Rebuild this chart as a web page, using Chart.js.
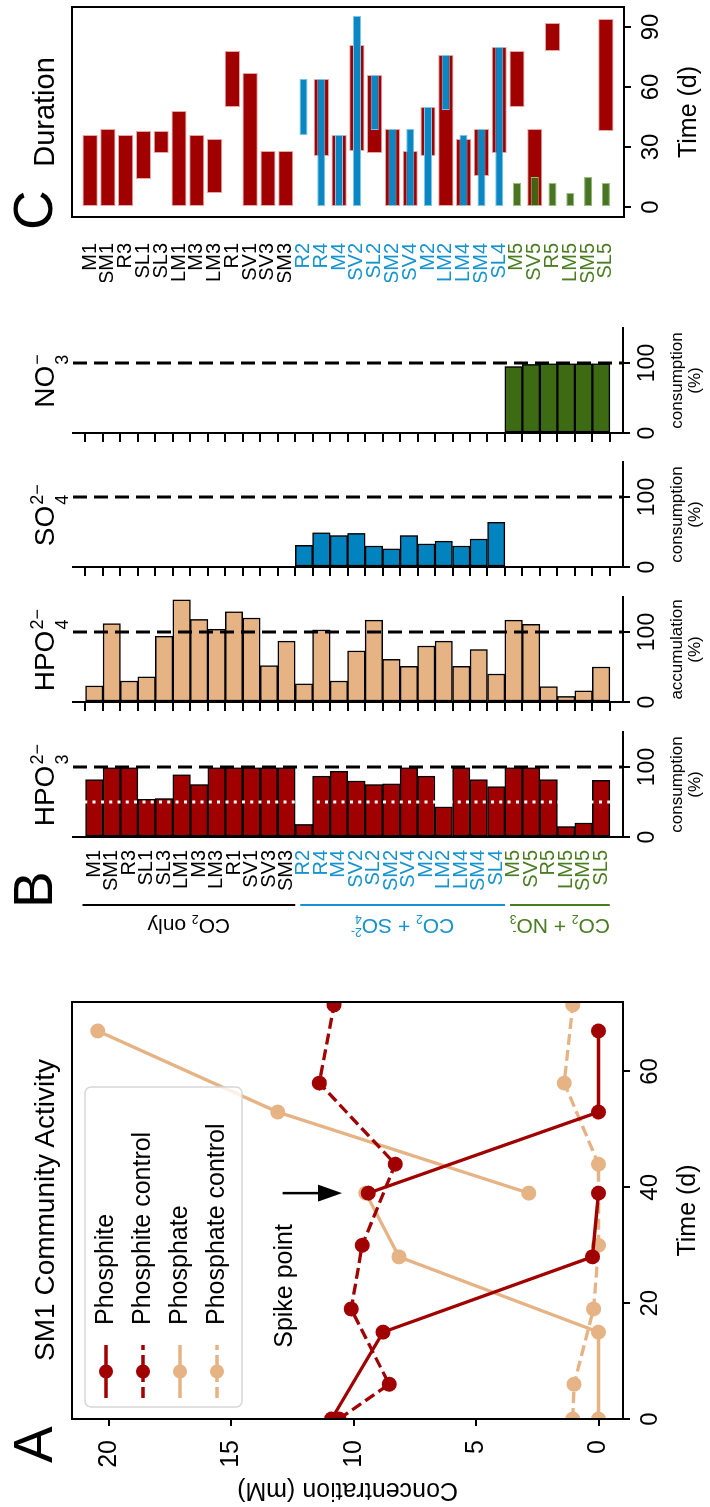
<!DOCTYPE html>
<html>
<head>
<meta charset="utf-8">
<title>SM1 community activity</title>
<script src="https://cdn.jsdelivr.net/npm/chart.js@4.4.1/dist/chart.umd.min.js"></script>
<style>
  html, body { margin: 0; padding: 0; background: #fff; overflow: hidden; }
  body { width: 710px; height: 1507px; position: relative; }
  /* the figure is laid out landscape, then turned a quarter left */
  #fig {
    position: absolute; left: 0; top: 0; width: 1507px; height: 710px;
    transform-origin: 0 0; transform: translateY(1507px) rotate(-90deg);
    font-family: 'Liberation Sans', Arial, sans-serif; color: #000;
  }
  #fig canvas { position: absolute; }
  .txt { position: absolute; white-space: nowrap; text-align: center; }
  .st { position: relative; display: inline-block; }
  .sp, .sb { position: absolute; left: 1px; }
</style>
</head>
<body>
<div id="fig"></div>
<script>
// ---- panel A: concentration (mM) against time (d); null breaks the line at the spike
const phosphiteDays = [0, 15, 28, 39, 39, 39, 53, 67];
const phosphiteConc = [10.9, 8.8, 0.25, 0, null, 9.4, 0, 0];
const phosphiteCtrlDays = [0, 6, 19, 30, 44, 58, 71.5];
const phosphiteCtrlConc = [10.6, 8.55, 10.1, 9.65, 8.3, 11.4, 10.8];
const phosphateDays = [0, 15, 28, 39, 39, 39, 53, 67];
const phosphateConc = [0, 0, 8.15, 9.5, null, 2.85, 13.1, 20.45];
const phosphateCtrlDays = [0, 6, 19, 30, 44, 58, 71.5];
const phosphateCtrlConc = [1.05, 1.0, 0.2, 0, 0, 1.4, 1.05];
const concTicks = [0, 5, 10, 15, 20];
const dayTicksA = [0, 20, 40, 60];

// ---- panel B: one value per site, null = not measured
const sites = ['M1', 'SM1', 'R3', 'SL1', 'SL3', 'LM1', 'M3', 'LM3', 'R1', 'SV1', 'SV3', 'SM3',
  'R2', 'R4', 'M4', 'SV2', 'SL2', 'SM2', 'SV4', 'M2', 'LM2', 'LM4', 'SM4', 'SL4',
  'M5', 'SV5', 'R5', 'LM5', 'SM5', 'SL5'];
const groupSizes = [12, 12, 6];
const phosphiteUse = [82, 99, 99, 54, 55, 89, 75, 99, 99, 99, 99, 99,
  18, 87, 94, 80, 75, 76, 99, 87, 43, 99, 82, 72,
  99, 99, 82, 15, 20, 81];
const phosphateGain = [23, 112, 30, 36, 94, 146, 118, 104, 129, 120, 52, 87,
  26, 103, 30, 73, 117, 61, 51, 80, 87, 51, 75, 40,
  117, 111, 22, 8, 16, 50];
const sulfateUse = [null, null, null, null, null, null, null, null, null, null, null, null,
  31, 49, 45, 48, 30, 26, 45, 33, 37, 30, 40, 64,
  null, null, null, null, null, null];
const nitrateUse = [null, null, null, null, null, null, null, null, null, null, null, null,
  null, null, null, null, null, null, null, null, null, null, null, null,
  95, 98, 99, 99, 99, 99];
const pctTicks = [0, 100];

// ---- panel C: activity windows (d), start and end per site
const phosphiteStart = [0, 0, 0, 14, 27, 0, 0, 7, 50, 0, 0, 0,
  null, 25.5, 0, 28, 27, 0, 0, 25.5, 0, 0, 15.5, 27,
  50, 0, 78, null, null, 38];
const phosphiteEnd = [36, 39, 36, 38, 38, 48, 36, 34, 78, 67, 28, 28,
  null, 64, 36, 81, 66, 39, 28, 50, 76, 34, 39, 80,
  78, 39, 92, null, null, 94];
const sulfateStart = [null, null, null, null, null, null, null, null, null, null, null, null,
  36, 0, 0, 0, 38.5, 0, 0, 0, 48.5, 0, 0, 0,
  null, null, null, null, null, null];
const sulfateEnd = [null, null, null, null, null, null, null, null, null, null, null, null,
  64, 64, 36, 95.5, 66, 39, 39, 50, 76, 36, 39, 80,
  null, null, null, null, null, null];
const nitrateStart = [null, null, null, null, null, null, null, null, null, null, null, null,
  null, null, null, null, null, null, null, null, null, null, null, null,
  0, 0, 0, 0, 0, 0];
const nitrateEnd = [null, null, null, null, null, null, null, null, null, null, null, null,
  null, null, null, null, null, null, null, null, null, null, null, null,
  12, 15, 12, 7, 15, 12];
const dayTicksC = [0, 30, 60, 90];

const RED = '#a00000', TAN = '#e6b385', BLUE = '#0083bf', GREEN = '#3d6b14';
const groupColors = ['#000000', '#1593cf', '#4a7d22'];
const FONT = "'Liberation Sans', Arial, sans-serif";

Chart.defaults.font.family = FONT;
Chart.defaults.color = '#000';
Chart.defaults.animation = false;
Chart.defaults.events = [];
Chart.defaults.plugins.legend.display = false;
Chart.defaults.plugins.tooltip.enabled = false;

const fig = document.getElementById('fig');

function mkCanvas(left, top, w, h) {
  const c = document.createElement('canvas');
  c.width = w; c.height = h;
  c.style.left = left + 'px'; c.style.top = top + 'px';
  fig.appendChild(c);
  return c;
}
// fixed axis sizes; label overhang must not push the plot area around
function noPad(s) { s.paddingTop = s.paddingBottom = s.paddingLeft = s.paddingRight = 0; }
const fixW = w => s => { s.width = w; noPad(s); };
const fixH = h => s => { s.height = h; noPad(s); };
const setTicks = vals => s => { s.ticks = vals.map(v => ({ value: v })); };
const siteIdx = sites.map((_, i) => i);
function groupOf(i) {
  let acc = 0;
  for (let g = 0; g < groupSizes.length; g++) { acc += groupSizes[g]; if (i < acc) return g; }
  return groupSizes.length - 1;
}

// html text, positioned by its baseline
function label(html, x, baseline, size, align) {
  const d = document.createElement('div');
  d.className = 'txt';
  d.style.fontSize = size + 'px';
  d.style.lineHeight = size + 'px';
  d.style.top = (baseline - 0.8465 * size) + 'px';
  if (align === 'center') { d.style.left = (x - 300) + 'px'; d.style.width = '600px'; }
  else { d.style.left = x + 'px'; d.style.textAlign = 'left'; }
  d.innerHTML = html;
  fig.appendChild(d);
}
// ion formula with stacked sub/superscript
function ion(base, sub, sup, size) {
  const s = Math.round(size * 0.64);
  const base0 = 0.8465 * size, small0 = 0.8465 * s;
  const w = Math.max(sub.length, sup.length) * 0.58 * s + 2;
  return base + '<span class="st" style="width:' + w + 'px">\u200b' +
    '<span class="sp" style="font-size:' + s + 'px;line-height:' + s + 'px;top:' + (base0 - 0.43 * size - small0) + 'px">' + sup + '</span>' +
    '<span class="sb" style="font-size:' + s + 'px;line-height:' + s + 'px;top:' + (base0 + 0.46 * size - small0) + 'px">' + sub + '</span></span>';
}

// ---- plugins
const frameBox = {
  id: 'frameBox',
  afterDraw(chart) {
    const { ctx, chartArea: a } = chart;
    ctx.save();
    ctx.strokeStyle = '#000'; ctx.lineWidth = 2;
    ctx.strokeRect(a.left, a.top, a.right - a.left, a.bottom - a.top);
    ctx.restore();
  }
};

const legendBox = {
  id: 'legendBox',
  afterDatasetsDraw(chart) {
    const { ctx, chartArea: a } = chart;
    const x0 = a.left + 12, y0 = a.top + 13, w = 320, h = 157, r = 6;
    ctx.save();
    ctx.beginPath();
    ctx.moveTo(x0 + r, y0); ctx.arcTo(x0 + w, y0, x0 + w, y0 + h, r);
    ctx.arcTo(x0 + w, y0 + h, x0, y0 + h, r); ctx.arcTo(x0, y0 + h, x0, y0, r);
    ctx.arcTo(x0, y0, x0 + w, y0, r); ctx.closePath();
    ctx.fillStyle = 'rgba(255,255,255,0.8)'; ctx.fill();
    ctx.strokeStyle = '#d6d6d6'; ctx.lineWidth = 1.5; ctx.stroke();
    chart.data.datasets.forEach((ds, i) => {
      const cy = y0 + 21 + i * 37;
      ctx.strokeStyle = ds.borderColor; ctx.lineWidth = ds.borderWidth;
      ctx.setLineDash(ds.borderDash || []);
      ctx.beginPath(); ctx.moveTo(x0 + 9, cy); ctx.lineTo(x0 + 62, cy); ctx.stroke();
      ctx.setLineDash([]);
      ctx.fillStyle = ds.pointBackgroundColor;
      ctx.beginPath(); ctx.arc(x0 + 35.5, cy, 7, 0, Math.PI * 2); ctx.fill();
      ctx.fillStyle = '#000'; ctx.font = '25px ' + FONT; ctx.textBaseline = 'middle';
      ctx.fillText(ds.label, x0 + 82, cy);
    });
    ctx.restore();
  }
};

// arrow and note marking the spike day (data units)
const spikeArrow = { day: 39, from: 12.9, to: 10.47 };
const spikeText = { day: 12.3, conc: 12.53, text: 'Spike point' };
const spikeNote = {
  id: 'spikeNote',
  afterDatasetsDraw(chart) {
    const { ctx, scales: { x, y } } = chart;
    const px = x.getPixelForValue(spikeArrow.day);
    const y0 = y.getPixelForValue(spikeArrow.from), y1 = y.getPixelForValue(spikeArrow.to);
    ctx.save();
    ctx.strokeStyle = '#000'; ctx.fillStyle = '#000'; ctx.lineWidth = 2.5;
    ctx.beginPath(); ctx.moveTo(px, y0); ctx.lineTo(px, y1 - 20); ctx.stroke();
    ctx.beginPath(); ctx.moveTo(px, y1); ctx.lineTo(px - 8.5, y1 - 24); ctx.lineTo(px + 8.5, y1 - 24);
    ctx.closePath(); ctx.fill();
    ctx.font = '25px ' + FONT; ctx.textBaseline = 'alphabetic'; ctx.textAlign = 'left';
    ctx.fillText(spikeText.text, x.getPixelForValue(spikeText.day), y.getPixelForValue(spikeText.conc));
    ctx.restore();
  }
};

// 100 % reference and the white 50 % mark
const refLines = {
  id: 'refLines',
  afterDatasetsDraw(chart, args, opts) {
    const { ctx, chartArea: a, scales: { x } } = chart;
    ctx.save();
    if (opts.full != null) {
      const px = x.getPixelForValue(opts.full);
      ctx.strokeStyle = '#000'; ctx.lineWidth = 3; ctx.setLineDash([14, 7]);
      ctx.beginPath(); ctx.moveTo(px, a.top); ctx.lineTo(px, a.bottom); ctx.stroke();
    }
    if (opts.half != null) {
      const px = x.getPixelForValue(opts.half);
      ctx.strokeStyle = '#fff'; ctx.lineWidth = 3; ctx.setLineDash([3, 5.3]);
      ctx.beginPath(); ctx.moveTo(px, a.top + 3); ctx.lineTo(px, a.bottom - 3); ctx.stroke();
    }
    ctx.restore();
  }
};

const groupLabels = [
  [{ t: 'CO' }, { sub: '2' }, { t: ' only' }],
  [{ t: 'CO' }, { sub: '2' }, { t: ' + SO' }, { sub: '4', sup: '2-' }],
  [{ t: 'CO' }, { sub: '2' }, { t: ' + NO' }, { sub: '3', sup: '-' }]
];
function drawRich(ctx, parts, bx, cy, size, color) {
  const small = Math.round(size * 0.55);
  ctx.save();
  ctx.translate(bx, cy); ctx.rotate(-Math.PI / 2);
  ctx.fillStyle = color; ctx.textBaseline = 'alphabetic'; ctx.textAlign = 'left';
  const ws = parts.map(p => {
    if (p.t) { ctx.font = size + 'px ' + FONT; return ctx.measureText(p.t).width; }
    ctx.font = small + 'px ' + FONT;
    return Math.max(p.sub ? ctx.measureText(p.sub).width : 0, p.sup ? ctx.measureText(p.sup).width : 0);
  });
  let x = -ws.reduce((s, v) => s + v, 0) / 2;
  parts.forEach((p, i) => {
    if (p.t) { ctx.font = size + 'px ' + FONT; ctx.fillText(p.t, x, 0); }
    else {
      ctx.font = small + 'px ' + FONT;
      if (p.sub) ctx.fillText(p.sub, x, size * 0.2);
      if (p.sup) ctx.fillText(p.sup, x, -size * 0.45);
    }
    x += ws[i];
  });
  ctx.restore();
}
const groupBrackets = {
  id: 'groupBrackets',
  afterDraw(chart, args, opts) {
    const { ctx, scales: { y } } = chart;
    let from = 0;
    groupSizes.forEach((n, g) => {
      const to = from + n - 1;
      const y0 = y.getPixelForValue(from - 0.5) + (g ? 5 : -3);
      const y1 = y.getPixelForValue(to + 0.5);
      ctx.save();
      ctx.strokeStyle = groupColors[g]; ctx.lineWidth = 2;
      ctx.beginPath(); ctx.moveTo(opts.lineX, y0); ctx.lineTo(opts.lineX, y1); ctx.stroke();
      ctx.restore();
      drawRich(ctx, groupLabels[g], opts.textX, (y0 + y1) / 2, 21, groupColors[g]);
      from += n;
    });
  }
};

// ---- panel A
function series(label, days, conc, color, dash) {
  return {
    label, data: days.map((d, i) => ({ x: d, y: conc[i] })),
    borderColor: color, backgroundColor: color, pointBackgroundColor: color,
    borderWidth: 3.3, borderDash: dash, pointRadius: 7.5, pointBorderWidth: 0,
    clip: 0, spanGaps: false, tension: 0
  };
}
new Chart(mkCanvas(0, 62, 515, 648), {
  type: 'line',
  data: {
    datasets: [
      series('Phosphite', phosphiteDays, phosphiteConc, RED, []),
      series('Phosphite control', phosphiteCtrlDays, phosphiteCtrlConc, RED, [11, 5]),
      series('Phosphate', phosphateDays, phosphateConc, TAN, []),
      series('Phosphate control', phosphateCtrlDays, phosphateCtrlConc, TAN, [11, 5])
    ]
  },
  options: {
    responsive: false, devicePixelRatio: 1,
    layout: { padding: { left: 0, top: 10, right: 10, bottom: 5 }, autoPadding: false },
    scales: {
      x: {
        type: 'linear', min: 0, max: 72,
        afterBuildTicks: setTicks(dayTicksA), afterFit: fixH(82),
        grid: { drawOnChartArea: false, tickLength: 7, color: '#000', lineWidth: 2 },
        border: { display: false },
        ticks: { font: { size: 24 }, padding: 6, maxRotation: 0 },
        title: { display: true, text: 'Time (d)', font: { size: 25 }, padding: { top: 0, bottom: 2 } }
      },
      y: {
        type: 'linear', min: -1, max: 21.5,
        afterBuildTicks: setTicks(concTicks), afterFit: fixW(88),
        grid: { drawOnChartArea: false, tickLength: 7, color: '#000', lineWidth: 2 },
        border: { display: false },
        ticks: { font: { size: 25 }, padding: 14 },
        title: { display: true, text: 'Concentration (mM)', font: { size: 25 }, padding: { top: 2, bottom: 0 } }
      }
    }
  },
  plugins: [legendBox, spikeNote, frameBox]
});

// ---- panel B
const B = { top: 73, h: 550, w: 105, xh: 82 };
function ionPanel(o) {
  const canvas = mkCanvas(o.axisLeft - o.yAxisW, B.top - 10, o.yAxisW + B.w + 12, 10 + B.h + B.xh);
  const pts = [];
  o.values.forEach((v, i) => { if (v != null) pts.push({ x: v, y: i }); });
  const showSites = !!o.showSites;
  return new Chart(canvas, {
    type: 'bar',
    data: {
      datasets: [{
        data: pts, backgroundColor: o.color, borderColor: '#000', borderWidth: 1.5,
        borderSkipped: false, barPercentage: 1, categoryPercentage: 1
      }]
    },
    options: {
      indexAxis: 'y', responsive: false, devicePixelRatio: 1,
      layout: { padding: { left: 0, top: 10, right: 12, bottom: 0 }, autoPadding: false },
      plugins: {
        refLines: { full: 100, half: o.dotted ? 50 : null },
        groupBrackets: { lineX: 52, textX: 38 }
      },
      scales: {
        x: {
          type: 'linear', min: 0, max: 150,
          afterBuildTicks: setTicks(pctTicks), afterFit: fixH(B.xh),
          grid: { drawOnChartArea: false, tickLength: 7, color: '#000', lineWidth: 2 },
          border: { display: true, color: '#000', width: 2 },
          ticks: { font: { size: 23 }, padding: 4, maxRotation: 0 },
          title: { display: true, text: [o.axisTitle, '(%)'], font: { size: 17, lineHeight: 1.1 }, padding: { top: 0, bottom: 0 } }
        },
        y: {
          type: 'linear', reverse: true, min: -0.69, max: 29.73,
          afterBuildTicks: setTicks(siteIdx), afterFit: fixW(o.yAxisW),
          grid: showSites ? { display: false }
            : { display: true, drawOnChartArea: false, tickLength: 9, color: '#000', lineWidth: 2 },
          border: { display: true, color: '#000', width: 2 },
          ticks: {
            display: showSites, autoSkip: false, font: { size: 20 }, padding: 5,
            color: c => groupColors[groupOf(c.index)],
            callback: v => sites[v]
          }
        }
      }
    },
    plugins: showSites ? [refLines, groupBrackets] : [refLines]
  });
}
ionPanel({ axisLeft: 670, yAxisW: 120, values: phosphiteUse, color: RED, axisTitle: 'consumption', showSites: true, dotted: true });
ionPanel({ axisLeft: 805, yAxisW: 20, values: phosphateGain, color: TAN, axisTitle: 'accumulation' });
ionPanel({ axisLeft: 940, yAxisW: 20, values: sulfateUse, color: BLUE, axisTitle: 'consumption' });
ionPanel({ axisLeft: 1074, yAxisW: 20, values: nitrateUse, color: GREEN, axisTitle: 'consumption' });

// ---- panel C
function floatBars(starts, ends, color, edge, thick, order) {
  const pts = [];
  starts.forEach((s, i) => { if (s != null) pts.push({ x: [s, ends[i]], y: i }); });
  return {
    data: pts, backgroundColor: color, borderColor: edge, borderWidth: 1, borderSkipped: false,
    barPercentage: thick, categoryPercentage: 1, grouped: false, order
  };
}
new Chart(mkCanvas(1225, 62, 280, 644), {
  type: 'bar',
  data: {
    datasets: [
      floatBars(phosphiteStart, phosphiteEnd, RED, '#e7a5a5', 0.85, 3),
      floatBars(nitrateStart, nitrateEnd, 'rgba(58,106,18,0.93)', '#9cbf80', 0.45, 2),
      floatBars(sulfateStart, sulfateEnd, '#0a86c2', '#7cc4e8', 0.45, 1)
    ]
  },
  options: {
    indexAxis: 'y', responsive: false, devicePixelRatio: 1,
    layout: { padding: { left: 0, top: 10, right: 5, bottom: 0 }, autoPadding: false },
    scales: {
      x: {
        type: 'linear', min: -5, max: 100,
        afterBuildTicks: setTicks(dayTicksC), afterFit: fixH(82),
        grid: { drawOnChartArea: false, tickLength: 7, color: '#000', lineWidth: 2 },
        border: { display: false },
        ticks: { font: { size: 24 }, padding: 6, maxRotation: 0 },
        title: { display: true, text: 'Time (d)', font: { size: 25 }, padding: { top: 0, bottom: 2 } }
      },
      y: {
        type: 'linear', reverse: true, min: -0.5, max: 29.5,
        afterBuildTicks: setTicks(siteIdx), afterFit: fixW(65),
        grid: { display: false },
        border: { display: false },
        ticks: {
          autoSkip: false, font: { size: 20 }, padding: 18,
          color: c => groupColors[groupOf(c.index)],
          callback: v => sites[v]
        }
      }
    }
  },
  plugins: [frameBox]
});

// ---- titles and panel letters
label('A', 44, 53, 55, 'left');
label('B', 599, 53, 55, 'left');
label('C', 1277, 53, 55, 'left');
label('SM1 Community Activity', 297, 55, 28, 'center');
label(ion('HPO', '3', '2\u2212', 28), 722.5, 55, 28, 'center');
label(ion('HPO', '4', '2\u2212', 28), 857.5, 55, 28, 'center');
label(ion('SO', '4', '2\u2212', 28), 992.5, 55, 28, 'center');
label(ion('NO', '3', '\u2212', 28), 1126.5, 55, 28, 'center');
label('Duration', 1395, 55, 29, 'center');
</script>
</body>
</html>
